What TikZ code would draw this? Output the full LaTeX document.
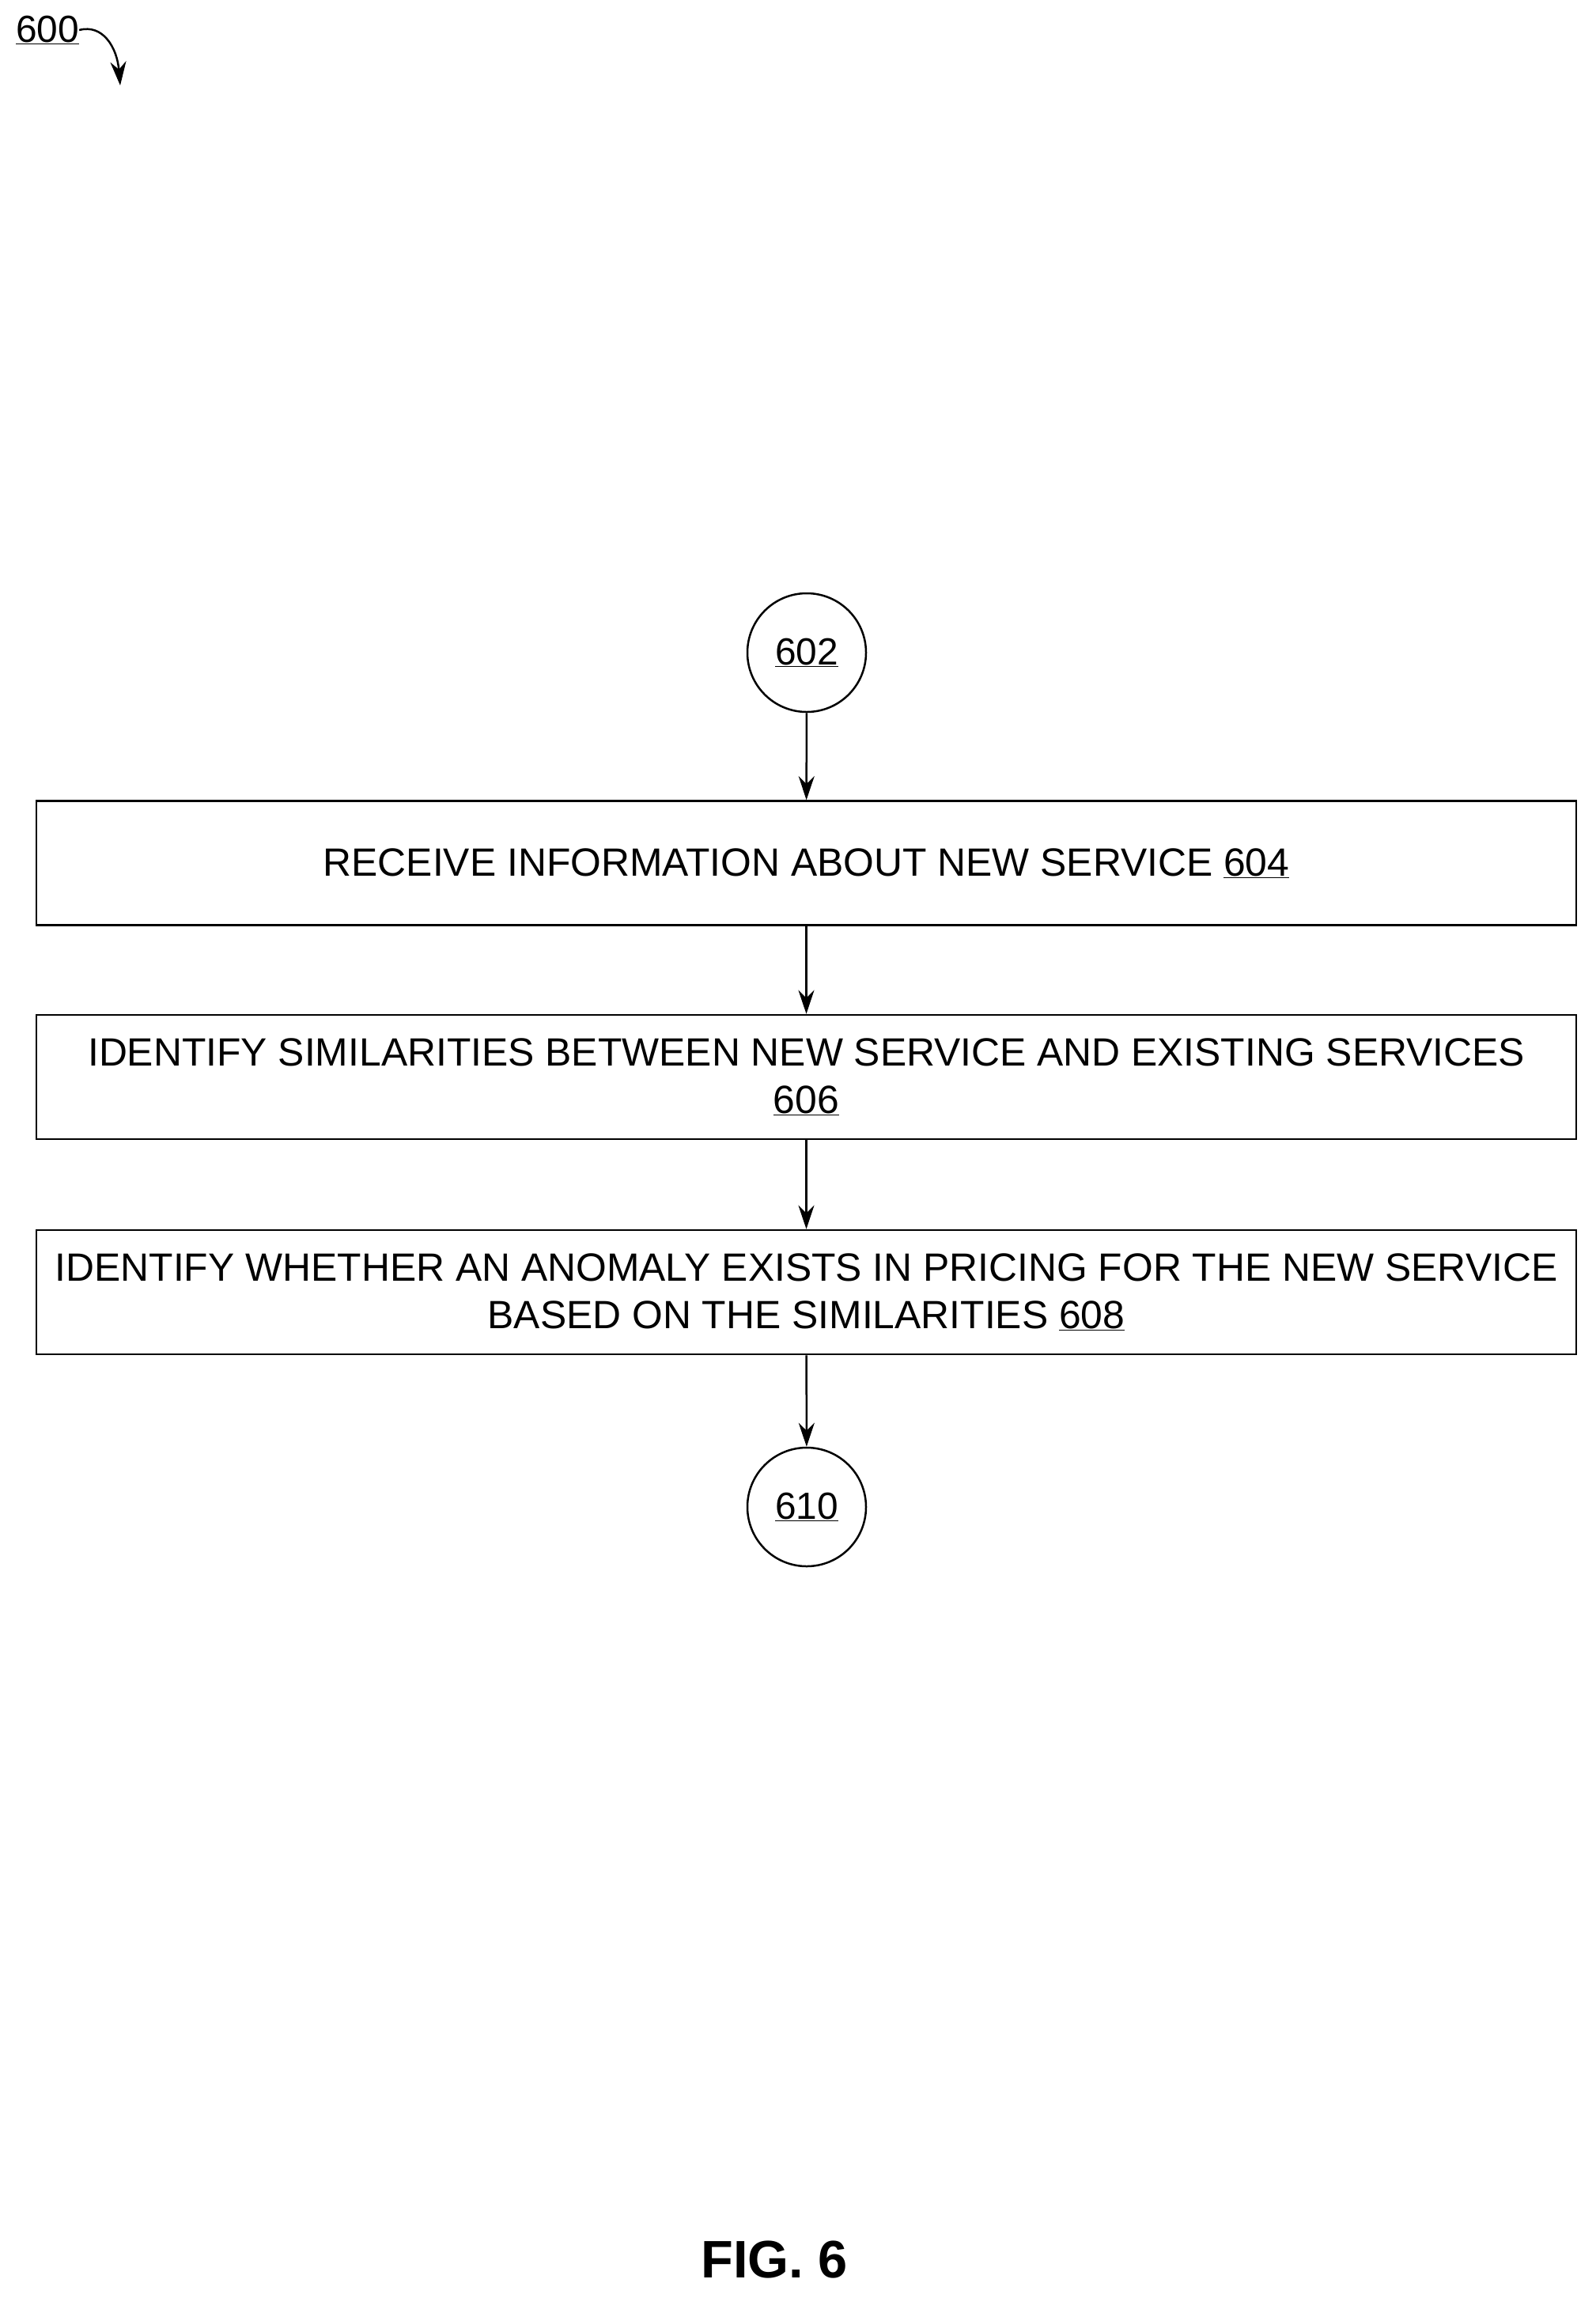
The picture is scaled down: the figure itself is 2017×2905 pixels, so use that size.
\documentclass[tikz,border=0pt]{standalone}
\usepackage{fontspec}
\setmainfont{Liberation Sans}
\usetikzlibrary{arrows.meta}
\begin{document}
\begin{tikzpicture}[x=1bp,y=-1bp,
  box/.style={draw,line width=2.5bp,minimum width=1947bp,minimum height=157bp,align=center,font=\fontsize{50}{60}\selectfont,inner sep=0},
  circ/.style={draw,circle,line width=2.5bp,minimum size=150bp,font=\fontsize{48}{55}\selectfont,inner sep=0},
  arr/.style={-{Stealth[length=30bp,width=20bp]},line width=2.5bp}]
\useasboundingbox (0,0) rectangle (2017,2905);
\node[circ] (c602) at (1020,825) {\underline{602}};
\node[box] (b604) at (1019.5,1091) {RECEIVE INFORMATION ABOUT NEW SERVICE \underline{604}};
\node[box] (b606) at (1019.5,1361.5) {IDENTIFY SIMILARITIES BETWEEN NEW SERVICE AND EXISTING SERVICES\\\underline{606}};
\node[box] (b608) at (1019.5,1633.5) {IDENTIFY WHETHER AN ANOMALY EXISTS IN PRICING FOR THE NEW SERVICE\\BASED ON THE SIMILARITIES \underline{608}};
\node[circ] (c610) at (1020,1905) {\underline{610}};
\draw[arr] (c602) -- (b604);
\draw[arr] (b604) -- (b606);
\draw[arr] (b606) -- (b608);
\draw[arr] (b608) -- (c610);
\node[font=\fontsize{48}{55}\selectfont,anchor=west,inner sep=0] (l600) at (20,38) {\underline{600}};
\coordinate (e600) at (152,108);
\draw[arr] (l600.east) .. controls (130,30) and (148,60) .. (e600);
\node[font=\bfseries\fontsize{67}{80}\selectfont] (fig) at (979,2856) {FIG. 6};
\end{tikzpicture}
\end{document}
